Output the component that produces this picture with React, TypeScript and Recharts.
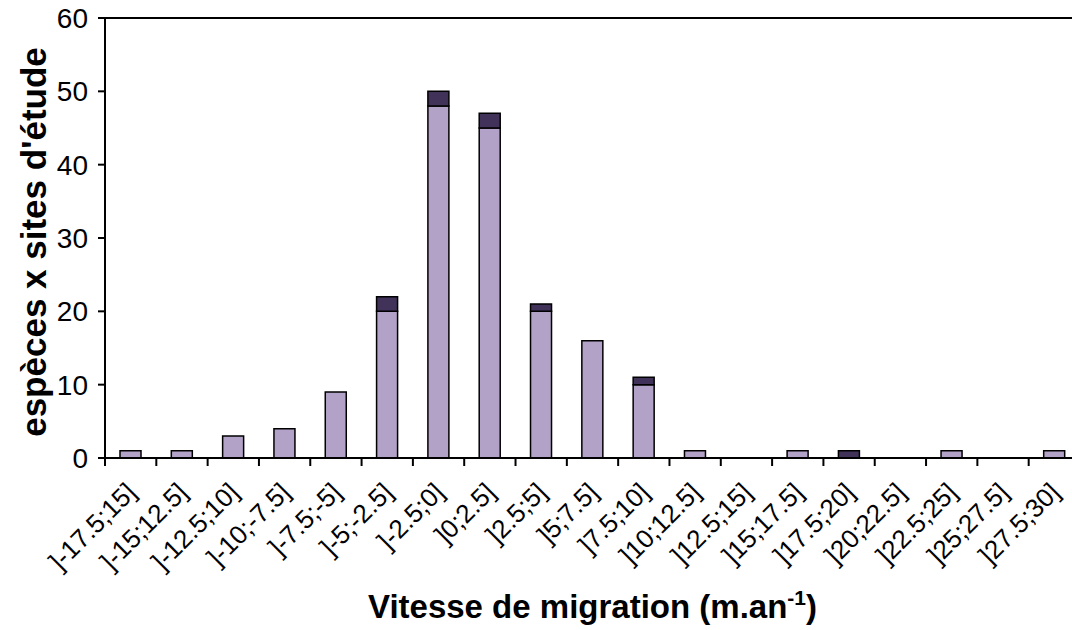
import React from 'react';
import { BarChart, Bar, XAxis, YAxis, ReferenceLine, Label } from 'recharts';

const categories = [
  ']-17.5;15]', ']-15;12.5]', ']-12.5;10]', ']-10;-7.5]', ']-7.5;-5]', ']-5;-2.5]', ']-2.5;0]',
  ']0;2.5]', ']2.5;5]', ']5;7.5]', ']7.5;10]', ']10;12.5]', ']12.5;15]', ']15;17.5]',
  ']17.5;20]', ']20;22.5]', ']22.5;25]', ']25;27.5]', ']27.5;30]',
];
const lightValues = [1, 1, 3, 4, 9, 20, 48, 45, 20, 16, 10, 1, 0, 1, 0, 0, 1, 0, 1];
const darkValues = [0, 0, 0, 0, 0, 2, 2, 2, 1, 0, 1, 0, 0, 0, 1, 0, 0, 0, 0];
const yTicks = [0, 10, 20, 30, 40, 50, 60];

const data = categories.map((cat, i) => ({ cat, light: lightValues[i], dark: darkValues[i] }));

const FONT = '"Liberation Sans", Arial, sans-serif';
const TICK_LEN = 8;

const XTick = (props: any) => {
  const { x, y, payload, index, visibleTicksCount } = props;
  const half = payload.offset || 0;
  const axisY = y - TICK_LEN;
  const ax = x + 7;
  const ay = axisY + 36;
  const isLast = index === visibleTicksCount - 1;
  return (
    <g>
      <line x1={x - half} x2={x - half} y1={axisY} y2={axisY + TICK_LEN} stroke="#000" strokeWidth={2} />
      {isLast && (
        <line x1={x + half} x2={x + half} y1={axisY} y2={axisY + TICK_LEN} stroke="#000" strokeWidth={2} />
      )}
      <text
        x={ax}
        y={ay}
        transform={`rotate(-45, ${ax}, ${ay})`}
        textAnchor="end"
        fontFamily={FONT}
        fontSize={26}
        fill="#000"
      >
        {payload.value}
      </text>
    </g>
  );
};

const XTitle = (props: any) => {
  const vb = props.viewBox || {};
  const cx = vb.x + vb.width / 2;
  return (
    <text x={cx} y={618} textAnchor="middle" fontFamily={FONT} fontSize={33} fontWeight="bold" fill="#000">
      Vitesse de migration (m.an
      <tspan fontSize={21} dy={-13}>-1</tspan>
      <tspan dy={13}>)</tspan>
    </text>
  );
};

const YTitle = (props: any) => {
  const vb = props.viewBox || {};
  const cy = vb.y + vb.height / 2 + 4;
  const x = 46;
  return (
    <text x={x} y={cy} transform={`rotate(-90, ${x}, ${cy})`} textAnchor="middle" fontFamily={FONT} fontSize={35} fontWeight="bold" fill="#000">
      espèces x sites d'étude
    </text>
  );
};

export default function App() {
  return (
    <div style={{ position: 'absolute', left: 0, top: 0, width: 1072, height: 630, overflow: 'hidden', background: '#fff' }}>
      <BarChart width={1080} height={630} data={data} margin={{ top: 18, right: 0, left: 0, bottom: 52 }} barCategoryGap={0}>
        <XAxis
          dataKey="cat"
          type="category"
          interval={0}
          tickLine={false}
          tickSize={TICK_LEN}
          tickMargin={0}
          axisLine={{ stroke: '#000', strokeWidth: 2 }}
          tick={<XTick />}
          height={120}
        >
          <Label content={<XTitle />} />
        </XAxis>
        <YAxis
          domain={[0, 60]}
          ticks={yTicks}
          width={105}
          axisLine={{ stroke: '#000', strokeWidth: 2 }}
          tickLine={{ stroke: '#000', strokeWidth: 2 }}
          tickSize={7}
          tickMargin={10}
          tick={{ fill: '#000', fontSize: 28, fontFamily: FONT }}
          interval={0}
        >
          <Label content={<YTitle />} />
        </YAxis>
        <ReferenceLine y={60} stroke="#000" strokeWidth={2} />
        <Bar dataKey="light" stackId="s" fill="#b3a2c7" stroke="#000" strokeWidth={1.5} barSize={21} isAnimationActive={false} />
        <Bar dataKey="dark" stackId="s" fill="#41325a" stroke="#000" strokeWidth={1.5} barSize={21} isAnimationActive={false} />
      </BarChart>
    </div>
  );
}
